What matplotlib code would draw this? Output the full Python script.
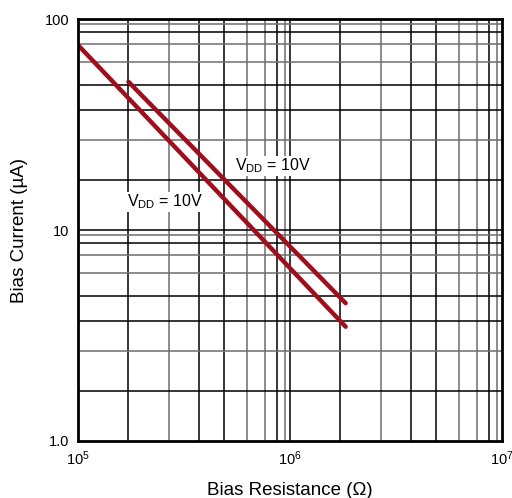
import matplotlib.pyplot as plt
import numpy as np
from matplotlib.ticker import FixedLocator, NullLocator, NullFormatter

plt.rcParams['font.family'] = ['Liberation Sans', 'DejaVu Sans']
plt.rcParams['mathtext.fontset'] = 'custom'
plt.rcParams['mathtext.rm'] = 'Liberation Sans'

# bias resistance (ohm) vs bias current (uA)
r_low = [1.0e5, 1.83e6]
i_low = [75.3, 3.48]
r_high = [1.73e5, 1.83e6]
i_high = [50.4, 4.5]

label_text = r'V$_{\mathregular{DD}}$ = 10V'
x_ticks = [1e5, 1e6, 1e7]
x_ticklabels = [r'$\mathregular{10^5}$', r'$\mathregular{10^6}$', r'$\mathregular{10^7}$']
y_ticks = [1, 10, 100]
y_ticklabels = ['1.0', '10', '100']

# odd grid spacing used in the original sheet (multipliers within a decade)
grid_mult = [1.718, 2.679, 3.724, 4.887, 6.252, 7.638, 8.71, 9.484]
grid_col = ['black', '#6e6e6e', 'black', 'black', '#6e6e6e', '#6e6e6e', 'black', '#6e6e6e']

fig = plt.figure(figsize=(5.12, 4.98), dpi=100)
ax = fig.add_axes([0.1523, 0.1145, 0.8282, 0.8473])
ax.set_xscale('log')
ax.set_yscale('log')
ax.set_xlim(1e5, 1e7)
ax.set_ylim(1, 100)

for dec in [1e5, 1e6]:
    for m, c in zip(grid_mult, grid_col):
        ax.axvline(dec * m, color=c, lw=1.1, zorder=1)
ax.axvline(1e6, color='black', lw=1.1, zorder=1)
for dec in [1, 10]:
    for m, c in zip(grid_mult, grid_col):
        ax.axhline(dec * m, color=c, lw=1.1, zorder=1)
ax.axhline(10, color='black', lw=1.1, zorder=1)

ax.plot(r_low, i_low, color='#9E0F1D', lw=3.2, solid_capstyle='round', zorder=3)
ax.plot(r_high, i_high, color='#9E0F1D', lw=3.2, solid_capstyle='round', zorder=3)

bb = dict(facecolor='white', edgecolor='none', pad=0.5)
ax.text(1.697e5, 12.9, label_text, fontsize=11.5, ha='left', va='baseline', bbox=bb, zorder=2)
ax.text(5.5e5, 19.2, label_text, fontsize=11.5, ha='left', va='baseline', bbox=bb, zorder=2)

ax.xaxis.set_major_locator(FixedLocator(x_ticks))
ax.xaxis.set_minor_locator(NullLocator())
ax.xaxis.set_minor_formatter(NullFormatter())
ax.set_xticklabels(x_ticklabels)
ax.yaxis.set_major_locator(FixedLocator(y_ticks))
ax.yaxis.set_minor_locator(NullLocator())
ax.yaxis.set_minor_formatter(NullFormatter())
ax.set_yticklabels(y_ticklabels)
ax.tick_params(length=0, labelsize=10.5, pad=6)

for s in ax.spines.values():
    s.set_linewidth(2.0)
    s.set_zorder(4)

ax.set_xlabel('Bias Resistance (Ω)', fontsize=13.5, labelpad=10)
ax.set_ylabel('Bias Current (µA)', fontsize=13.5, labelpad=12)

fig.savefig('out.png', dpi=100)
